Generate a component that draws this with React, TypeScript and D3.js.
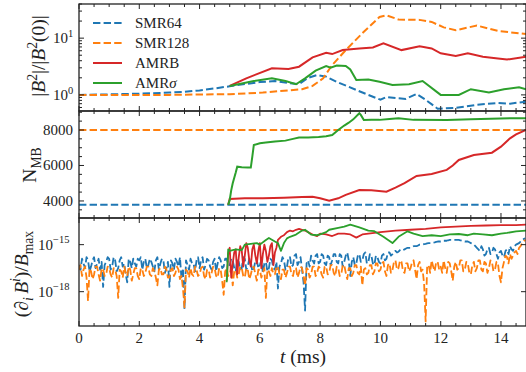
import React from 'react';
import * as d3 from 'd3';

// ---------- data ----------
// Panel 1: |B^2|/|B^2(0)|
const smr64B_t = [0, 1, 2, 3, 3.5, 4, 4.5, 5, 5.5, 6, 6.5, 7, 7.3, 7.6, 7.9, 8.2, 8.55, 9.2, 9.6, 10.0, 10.2, 10.5, 10.84, 11.2, 11.5, 11.9, 12.5, 13.2, 13.9, 14.3, 14.83];
const smr64B_v = [1.0, 1.02, 1.05, 1.1, 1.13, 1.2, 1.3, 1.42, 1.55, 1.68, 1.75, 1.6, 1.55, 2.0, 2.24, 2.1, 1.7, 1.22, 1.0, 0.82, 0.92, 0.88, 0.85, 1.04, 0.82, 0.57, 0.59, 0.67, 0.72, 0.7, 0.76];
const smr128B_t = [0, 3, 5, 6.1, 7.4, 7.75, 8.1, 8.4, 8.85, 9.4, 9.97, 10.2, 10.6, 11.3, 11.7, 12.1, 12.5, 13.2, 13.9, 14.83];
const smr128B_v = [1.0, 1.0, 1.03, 1.1, 1.26, 1.44, 1.96, 3.36, 6.16, 12.2, 23.6, 25.3, 21.3, 21.0, 19.3, 15.5, 13.8, 16.7, 13.4, 11.8];
const amrbB_t = [5.0, 5.55, 6.4, 6.95, 7.3, 7.75, 8.2, 8.4, 8.75, 9.3, 9.75, 10.1, 10.7, 11.3, 11.7, 12.0, 12.5, 12.9, 13.4, 13.9, 14.2, 14.83];
const amrbB_v = [1.44, 1.96, 2.94, 2.86, 3.14, 4.58, 5.5, 5.24, 6.16, 6.6, 6.86, 8.1, 6.16, 7.2, 6.6, 5.4, 4.83, 5.4, 4.7, 4.4, 4.2, 4.7];
const amrsB_t = [5.0, 5.8, 6.4, 6.85, 7.2, 7.5, 7.85, 8.2, 8.35, 8.55, 8.85, 9.0, 9.2, 9.6, 9.97, 10.4, 10.95, 11.4, 12.0, 12.6, 13.0, 13.6, 14.1, 14.6, 14.83];
const amrsB_v = [1.44, 1.76, 1.96, 1.76, 1.54, 1.96, 2.67, 3.23, 3.02, 3.28, 3.23, 2.8, 1.83, 1.86, 1.71, 1.5, 1.54, 1.76, 1.0, 1.0, 1.26, 1.1, 1.26, 1.36, 1.26];

// Panel 2: number of meshblocks
const smr64N = 3780;
const smr128N = 8000;
const amrbN_t = [4.95, 5.0, 5.5, 6.1, 6.8, 7.4, 7.75, 8.0, 8.3, 8.6, 8.85, 9.3, 9.7, 10.2, 10.5, 10.8, 11.2, 11.7, 12.2, 12.4, 12.6, 13.1, 13.7, 14.0, 14.3, 14.5, 14.83];
const amrbN_v = [3780, 4110, 4150, 4150, 4180, 4220, 4240, 4150, 4020, 4150, 4340, 4620, 4600, 4520, 4750, 5000, 5410, 5520, 5750, 6000, 6310, 6590, 6720, 7060, 7530, 7750, 8000];
const amrsN_t = [4.95, 5.0, 5.05, 5.1, 5.2, 5.25, 5.4, 5.6, 5.7, 5.75, 5.8, 6.0, 6.2, 6.5, 6.85, 7.1, 7.3, 7.6, 7.95, 8.2, 8.4, 8.6, 8.8, 8.95, 9.1, 9.3, 9.35, 9.45, 9.7, 9.97, 10.3, 10.6, 11.1, 12.2, 13.0, 14.3, 14.83];
const amrsN_v = [3780, 4056, 4600, 5000, 5600, 5930, 5900, 5880, 5880, 6500, 7155, 7250, 7290, 7350, 7400, 7500, 7570, 7580, 7600, 7650, 7720, 8000, 8250, 8410, 8600, 8940, 8850, 8560, 8580, 8570, 8620, 8660, 8570, 8560, 8600, 8660, 8660];

// Panel 3: log10 of divergence, sampled every 0.05 ms from t = 0
const divStep = 0.05;
const smr64Div = [
  -16.3, -16.6, -15.9, -16.2, -16.5, -15.8, -16.0, -16.7, -16.4, -16.0, -15.8, -16.5, -16.2, -15.9, -16.6, -16.1, -17.7, -16.3, -16.1, -15.8,
  -15.9, -16.6, -16.4, -15.8, -16.0, -16.7, -16.5, -16.0, -15.8, -16.4, -16.2, -16.9, -17.4, -15.9, -16.1, -16.5, -15.9, -16.2, -16.4, -15.9,
  -16.0, -15.8, -16.6, -16.1, -15.9, -16.5, -16.3, -15.9, -16.1, -16.4, -16.7, -16.0, -15.8, -16.6, -16.2, -15.9, -16.0, -16.8, -16.5, -16.1,
  -17.7, -16.0, -16.2, -16.6, -15.9, -16.1, -16.4, -15.8, -17.2, -16.5, -19.1, -16.0, -16.3, -16.6, -15.9, -16.2, -16.2, -16.7, -16.0, -15.8,
  -16.5, -16.0, -15.8, -16.6, -16.3, -15.9, -16.0, -16.4, -16.6, -16.1, -15.9, -16.7, -16.2, -15.8, -16.0, -16.5, -16.4, -15.9, -15.9, -16.3,
  -16.3, -15.9, -16.0, -16.5, -16.7, -16.0, -16.1, -16.6, -16.5, -15.8, -15.9, -16.6, -16.4, -15.9, -16.1, -16.7, -16.6, -16.0, -16.0, -16.5,
  -16.3, -16.0, -16.8, -16.2, -16.1, -16.7, -16.5, -15.9, -16.0, -16.5, -16.6, -16.1, -17.8, -16.4, -16.2, -15.8, -16.0, -16.6, -16.4, -15.8,
  -15.8, -16.4, -16.3, -15.7, -15.6, -16.3, -16.1, -15.8, -16.6, -17.4, -19.2, -16.2, -16.0, -16.4, -15.7, -16.0, -16.2, -15.7, -15.6, -16.2,
  -16.1, -15.6, -15.7, -16.2, -16.3, -15.7, -15.8, -16.3, -16.0, -15.6, -15.6, -16.1, -16.2, -15.6, -15.7, -16.4, -16.1, -15.7, -15.5, -16.0,
  -17.0, -16.1, -15.8, -16.3, -16.2, -15.7, -15.6, -16.1, -16.0, -15.6, -15.5, -16.2, -16.1, -15.6, -15.7, -16.2, -16.3, -15.7, -15.8, -16.1,
  -16.2, -15.7, -15.6, -16.0, -15.9, -15.5, -15.5, -15.7, -15.6, -15.45, -15.4, -15.5, -15.45, -15.35, -15.3, -15.35, -15.3, -15.25, -15.2, -15.2,
  -15.2, -15.15, -15.1, -15.1, -15.1, -15.05, -15.0, -15.0, -15.0, -14.97, -14.95, -14.92, -14.9, -14.9, -14.9, -14.87, -14.85, -14.82, -14.8, -14.8,
  -14.8, -14.77, -14.75, -14.75, -14.75, -14.72, -14.7, -14.7, -14.7, -14.7, -14.7, -14.7, -14.7, -14.72, -14.75, -14.77, -14.8, -14.8, -14.8, -14.85,
  -14.9, -14.95, -15.0, -15.1, -15.2, -15.3, -15.4, -15.1, -15.3, -15.7, -15.6, -15.3, -15.2, -15.6, -15.5, -15.2, -15.3, -15.6, -15.9, -15.5,
  -15.4, -15.7, -15.8, -15.4, -15.3, -15.6, -15.1, -15.3, -15.4, -15.1, -15.0, -14.95, -14.9, -14.8, -14.7, -14.65, -14.6,
];
const smr128Div = [
  -16.6, -16.3, -17.0, -16.6, -16.4, -17.1, -18.6, -16.5, -16.7, -17.2, -16.9, -16.4, -16.4, -16.9, -17.3, -16.5, -16.6, -17.0, -16.9, -16.4,
  -16.5, -16.9, -17.1, -16.5, -16.6, -17.0, -18.4, -16.6, -16.7, -17.1, -16.4, -16.8, -17.0, -16.4, -16.6, -17.3, -16.9, -16.5, -16.5, -17.0,
  -17.2, -16.5, -16.6, -17.0, -16.8, -16.4, -16.4, -16.9, -17.0, -16.5, -16.7, -17.1, -17.6, -16.6, -16.5, -16.9, -16.9, -16.4, -16.6, -17.1,
  -17.1, -16.6, -16.5, -17.0, -16.8, -16.4, -16.6, -17.2, -17.0, -17.8, -19.0, -16.6, -16.7, -17.1, -16.5, -16.9, -17.0, -16.4, -16.6, -17.0,
  -16.9, -16.5, -16.4, -17.0, -17.2, -16.6, -16.6, -17.1, -16.8, -16.4, -16.5, -17.0, -17.1, -16.5, -16.6, -17.3, -18.2, -16.7, -16.5, -17.0,
  -16.9, -16.4, -17.6, -16.7, -16.6, -17.1, -16.9, -16.4, -16.5, -17.0, -17.1, -16.5, -16.6, -17.2, -16.9, -16.5, -16.4, -16.9, -17.3, -16.6,
  -16.6, -17.1, -16.8, -16.5, -18.4, -16.6, -16.7, -17.0, -16.5, -16.9, -16.9, -16.4, -16.4, -16.9, -17.2, -16.6, -16.6, -17.1, -16.8, -16.4,
  -16.4, -16.9, -17.0, -16.5, -16.5, -17.1, -16.8, -16.4, -16.5, -17.0, -17.6, -16.5, -16.6, -17.1, -16.9, -16.4, -16.4, -17.0, -16.8, -16.4,
  -16.5, -16.9, -17.1, -16.4, -16.4, -16.9, -16.8, -16.3, -16.3, -16.8, -17.0, -16.4, -16.5, -17.0, -16.9, -16.3, -16.3, -16.8, -17.2, -16.5,
  -16.5, -17.0, -16.8, -16.3, -16.3, -16.8, -16.9, -16.4, -17.6, -16.6, -16.5, -16.9, -16.8, -16.3, -16.3, -16.9, -16.7, -16.2, -16.2, -16.7,
  -16.6, -16.2, -16.1, -16.7, -17.0, -16.3, -16.2, -16.8, -16.6, -16.1, -16.0, -16.6, -16.5, -16.0, -16.1, -16.7, -16.8, -16.2, -16.2, -16.7,
  -16.5, -16.1, -16.0, -16.6, -17.2, -16.3, -16.1, -16.7, -16.6, -17.5, -19.9, -16.4, -16.3, -16.8, -16.0, -16.4, -16.7, -16.1, -16.1, -16.6,
  -16.4, -16.8, -16.0, -16.5, -16.8, -16.1, -16.2, -16.7, -17.3, -16.4, -16.1, -16.6, -16.5, -16.0, -16.0, -16.7, -16.6, -16.1, -16.2, -16.8,
  -16.9, -16.3, -16.1, -16.7, -16.5, -16.0, -16.0, -16.6, -16.7, -16.1, -16.2, -16.8, -16.5, -16.0, -16.1, -16.7, -16.6, -16.1, -16.2, -17.0,
  -17.4, -16.5, -16.1, -15.7, -15.8, -16.2, -15.6, -15.9, -15.7, -15.5, -15.4, -15.6, -15.2, -15.1, -14.9, -14.8, -14.7,
];
const amrbDiv_t = [4.9, 4.95, 5.0, 5.05, 5.1, 5.15, 5.2, 5.25, 5.3, 5.35, 5.4, 5.45, 5.5, 5.55, 5.6, 5.65, 5.7, 5.75, 5.8, 5.85, 5.9, 5.95, 6.0, 6.05, 6.1, 6.15, 6.2, 6.25, 6.3, 6.35, 6.4, 6.45, 6.5, 6.55, 6.6, 6.7, 6.8, 6.9, 7.0, 7.1, 7.2, 7.3, 7.4, 7.5, 7.6, 7.7, 7.8, 7.9, 8.0, 8.2, 8.4, 8.6, 8.8, 9.0, 9.2, 9.4, 9.6, 9.8, 10.0, 10.5, 11.0, 11.5, 12.0, 12.5, 13.0, 13.5, 14.0, 14.5, 14.83];
const amrbDiv_v = [-17.3, -15.6, -15.2, -17.1, -16.2, -15.5, -15.3, -16.9, -15.8, -15.1, -15.4, -16.4, -15.7, -14.9, -15.2, -16.0, -16.4, -15.3, -15.0, -15.7, -16.2, -15.4, -14.9, -16.5, -15.6, -15.0, -15.4, -16.1, -15.7, -15.1, -14.9, -16.3, -15.5, -15.2, -14.7, -14.5, -14.4, -14.2, -14.1, -14.15, -14.05, -14.0, -14.05, -14.1, -14.2, -14.3, -14.4, -14.45, -14.3, -14.35, -14.45, -14.3, -14.3, -14.35, -14.55, -14.35, -14.3, -14.25, -14.2, -14.1, -14.05, -14.0, -13.9, -13.85, -13.8, -13.78, -13.75, -13.75, -13.72];
const amrsDiv_t = [4.9, 4.95, 5.0, 5.2, 5.4, 5.5, 5.7, 5.9, 6.0, 6.2, 6.3, 6.5, 6.6, 6.7, 6.8, 6.9, 7.0, 7.2, 7.4, 7.5, 7.7, 7.9, 8.0, 8.2, 8.3, 8.6, 8.8, 9.0, 9.3, 9.6, 9.8, 10.1, 10.4, 10.6, 10.9, 11.1, 11.4, 11.7, 12.0, 12.3, 12.6, 12.9, 13.1, 13.4, 13.7, 14.0, 14.2, 14.5, 14.83];
const amrsDiv_v = [-17.4, -15.3, -15.4, -15.3, -15.35, -15.0, -14.95, -14.9, -15.0, -14.7, -14.57, -14.8, -14.9, -15.4, -14.9, -14.6, -14.5, -14.36, -14.1, -14.05, -14.36, -14.4, -14.35, -14.2, -14.05, -13.93, -13.85, -13.72, -13.9, -14.1, -14.14, -14.5, -14.9, -14.5, -14.15, -14.3, -14.46, -14.4, -14.46, -14.35, -14.32, -14.4, -14.3, -14.35, -14.4, -14.3, -14.25, -14.15, -14.1];

const seriesNames = ['SMR64', 'SMR128', 'AMRB', 'AMRσ'];
const xMajor = [0, 2, 4, 6, 8, 10, 12, 14];

// ---------- layout ----------
const W = 526, H = 372;
const X0 = 79, X1 = 526, T_MAX = 14.83;
const P1 = [4, 111], P2 = [111, 218], P3 = [218, 326];
const C = { blue: '#1f77b4', orange: '#ff7f0e', red: '#d62728', green: '#2ca02c' };
const FONT = '"Liberation Serif", "DejaVu Serif", serif';
const DASH = '7.4,3.2';
const LBL = 19.5;

const x = d3.scaleLinear().domain([0, T_MAX]).range([X0, X1]);
const y1 = d3.scaleLog().domain([0.52, 40]).range([P1[1], P1[0]]);
const y2 = d3.scaleLinear().domain([3040, 9070]).range([P2[1], P2[0]]);
const y3 = d3.scaleLog().domain([Math.pow(10, -20.19), Math.pow(10, -13.3)]).range([P3[1], P3[0]]);

type Seg = { s: string; it?: boolean; sup?: boolean; sub?: boolean };
function Rich({ segs, size, ...rest }: any) {
  let cur = 0;
  return (
    <text fontSize={size} fontFamily={FONT} fill="#222" {...rest}>
      {segs.map((g: Seg, i: number) => {
        const target = g.sup ? -0.42 * size : g.sub ? 0.25 * size : 0;
        const dy = target - cur;
        cur = target;
        return (
          <tspan key={i} dy={dy} fontStyle={g.it ? 'italic' : 'normal'} fontSize={g.sup || g.sub ? size * 0.7 : size}>
            {g.s}
          </tspan>
        );
      })}
    </text>
  );
}

function zip(t: number[], v: number[]): [number, number][] {
  return t.map((tt, i) => [tt, v[i]]);
}

function Axes({ top, bottom, yTicks }: { top: number; bottom: number; yTicks: { y: number; major: boolean }[] }) {
  const xt: { t: number; major: boolean }[] = [];
  for (let i = 0; i <= 29; i++) {
    const t = i * 0.5;
    xt.push({ t, major: i % 4 === 0 });
  }
  return (
    <g stroke="#222" strokeWidth={1}>
      {xt.map((d, i) => {
        const L = d.major ? 5 : 3;
        return (
          <g key={i}>
            <line x1={x(d.t)} x2={x(d.t)} y1={bottom} y2={bottom - L} />
            <line x1={x(d.t)} x2={x(d.t)} y1={top} y2={top + L} />
          </g>
        );
      })}
      {yTicks.map((d, i) => {
        const L = d.major ? 5 : 3;
        return (
          <g key={'y' + i}>
            <line x1={X0} x2={X0 + L} y1={d.y} y2={d.y} />
            <line x1={X1} x2={X1 - L} y1={d.y} y2={d.y} />
          </g>
        );
      })}
      <rect x={X0} y={top} width={X1 - X0} height={bottom - top} fill="none" strokeWidth={1.3} />
    </g>
  );
}

export default function App() {
  const line = (ys: any) => d3.line<[number, number]>().x((d) => x(d[0])).y((d) => ys(d[1]));
  const l1 = line(y1), l2 = line(y2), l3 = line(y3);

  const divPts = (arr: number[]): [number, number][] => arr.map((e, i) => [i * divStep, Math.pow(10, e)]);
  const divPts2 = (t: number[], e: number[]): [number, number][] => t.map((tt, i) => [tt, Math.pow(10, e[i])]);

  const y1Ticks: { y: number; major: boolean }[] = [];
  [0.6, 0.7, 0.8, 0.9, 2, 3, 4, 5, 6, 7, 8, 9, 20, 30, 40].forEach((v) => y1Ticks.push({ y: y1(v), major: false }));
  [1, 10].forEach((v) => y1Ticks.push({ y: y1(v), major: true }));
  const y2Ticks: { y: number; major: boolean }[] = [];
  for (let v = 3500; v <= 9000; v += 500) y2Ticks.push({ y: y2(v), major: v % 2000 === 0 });
  const y3Ticks = [-15, -18].map((e) => ({ y: y3(Math.pow(10, e)), major: true }));

  const legendY = [23, 43, 63, 83];
  const legendStyle = [
    { c: C.blue, dash: DASH },
    { c: C.orange, dash: DASH },
    { c: C.red, dash: undefined },
    { c: C.green, dash: undefined },
  ];

  return (
    <div style={{ position: 'absolute', left: 0, top: 0, width: W, height: H, background: '#fff' }}>
      <svg width={W} height={H} style={{ display: 'block' }}>
        <defs>
          <clipPath id="c1"><rect x={X0} y={P1[0]} width={X1 - X0} height={P1[1] - P1[0]} /></clipPath>
          <clipPath id="c2"><rect x={X0} y={P2[0]} width={X1 - X0} height={P2[1] - P2[0]} /></clipPath>
          <clipPath id="c3"><rect x={X0} y={P3[0]} width={X1 - X0} height={P3[1] - P3[0]} /></clipPath>
        </defs>

        {/* Panel 1 */}
        <g clipPath="url(#c1)" fill="none" strokeWidth={2}>
          <path d={l1(zip(smr64B_t, smr64B_v)) || ''} stroke={C.blue} strokeDasharray={DASH} />
          <path d={l1(zip(smr128B_t, smr128B_v)) || ''} stroke={C.orange} strokeDasharray={DASH} />
          <path d={l1(zip(amrbB_t, amrbB_v)) || ''} stroke={C.red} />
          <path d={l1(zip(amrsB_t, amrsB_v)) || ''} stroke={C.green} />
        </g>
        <Axes top={P1[0]} bottom={P1[1]} yTicks={y1Ticks} />

        {/* Panel 2 */}
        <g clipPath="url(#c2)" fill="none" strokeWidth={2}>
          <path d={l2([[0, smr64N], [T_MAX, smr64N]]) || ''} stroke={C.blue} strokeDasharray={DASH} />
          <path d={l2([[0, smr128N], [T_MAX, smr128N]]) || ''} stroke={C.orange} strokeDasharray={DASH} />
          <path d={l2(zip(amrbN_t, amrbN_v)) || ''} stroke={C.red} />
          <path d={l2(zip(amrsN_t, amrsN_v)) || ''} stroke={C.green} />
        </g>
        <Axes top={P2[0]} bottom={P2[1]} yTicks={y2Ticks} />

        {/* Panel 3 */}
        <g clipPath="url(#c3)" fill="none" strokeWidth={1.8} strokeLinejoin="round">
          <path d={l3(divPts(smr64Div)) || ''} stroke={C.blue} strokeDasharray={DASH} />
          <path d={l3(divPts(smr128Div)) || ''} stroke={C.orange} strokeDasharray={DASH} />
          <path d={l3(divPts2(amrbDiv_t, amrbDiv_v)) || ''} stroke={C.red} />
          <path d={l3(divPts2(amrsDiv_t, amrsDiv_v)) || ''} stroke={C.green} />
        </g>
        <Axes top={P3[0]} bottom={P3[1]} yTicks={y3Ticks} />

        {/* Legend */}
        {seriesNames.map((n, i) => (
          <g key={n}>
            <line x1={93} x2={122} y1={legendY[i]} y2={legendY[i]} stroke={legendStyle[i].c} strokeWidth={2} strokeDasharray={legendStyle[i].dash} />
            {n === 'AMRσ' ? (
              <Rich x={135} y={legendY[i] + 5} size={15} segs={[{ s: 'AMR' }, { s: 'σ', it: true }]} />
            ) : (
              <text x={135} y={legendY[i] + 5} fontSize={15} fontFamily={FONT} fill="#222">{n}</text>
            )}
          </g>
        ))}

        {/* Tick labels */}
        {xMajor.map((t) => (
          <text key={t} x={x(t)} y={343} textAnchor="middle" fontSize={15} fontFamily={FONT} fill="#222">{t}</text>
        ))}
        <Rich x={53} y={y1(10) + 5} size={15} segs={[{ s: '10' }, { s: '1', sup: true }]} />
        <Rich x={53} y={y1(1) + 5} size={15} segs={[{ s: '10' }, { s: '0', sup: true }]} />
        {[4000, 6000, 8000].map((v) => (
          <text key={v} x={73} y={y2(v) + 5} textAnchor="end" fontSize={15} fontFamily={FONT} fill="#222">{v}</text>
        ))}
        <Rich x={38} y={y3(1e-15) + 5} size={15} segs={[{ s: '10' }, { s: '−15', sup: true }]} />
        <Rich x={38} y={y3(1e-18) + 5} size={15} segs={[{ s: '10' }, { s: '−18', sup: true }]} />

        {/* Axis labels */}
        <Rich x={303} y={363} size={LBL} textAnchor="middle" segs={[{ s: 't', it: true }, { s: ' (ms)' }]} />
        <Rich transform="translate(45,56) rotate(-90)" x={0} y={0} size={LBL} textAnchor="middle"
          segs={[{ s: '|' }, { s: 'B', it: true }, { s: '2', sup: true }, { s: '|/|' }, { s: 'B', it: true }, { s: '2', sup: true }, { s: '(0)|' }]} />
        <Rich transform="translate(36,165) rotate(-90)" x={0} y={0} size={LBL} textAnchor="middle"
          segs={[{ s: 'N' }, { s: 'MB', sub: true }]} />
        <Rich transform="translate(28,274) rotate(-90)" x={0} y={0} size={LBL} textAnchor="middle"
          segs={[{ s: '(' }, { s: '∂', it: true }, { s: 'i ', it: true, sub: true }, { s: 'B', it: true }, { s: 'i', it: true, sup: true }, { s: ')/' }, { s: 'B', it: true }, { s: 'max', sub: true }]} />
      </svg>
    </div>
  );
}
